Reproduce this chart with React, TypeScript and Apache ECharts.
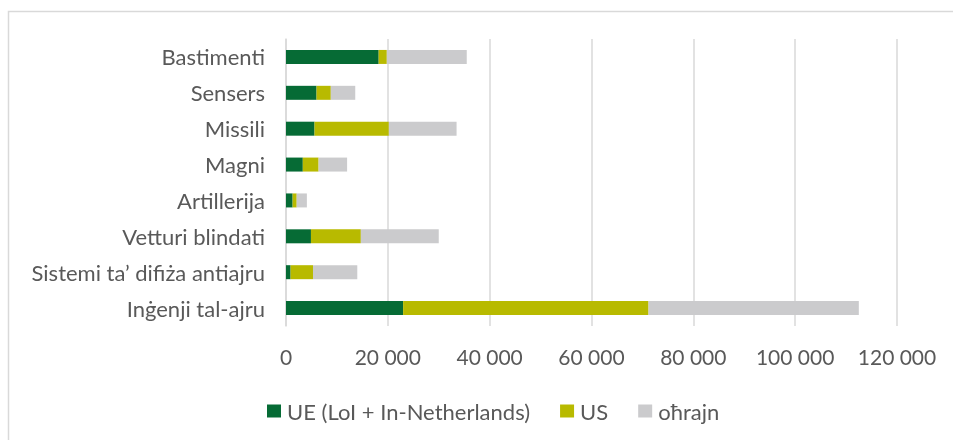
import React, { useEffect, useRef } from "react";
import * as echarts from "echarts";

const categories = [
  "Bastimenti",
  "Sensers",
  "Missili",
  "Magni",
  "Artillerija",
  "Vetturi blindati",
  "Sistemi ta’ difiża antiajru",
  "Inġenji tal-ajru",
];
const seriesNames = ["UE (LoI + In-Netherlands)", "US", "oħrajn"];
const ueValues = [18200, 6000, 5600, 3300, 1300, 4900, 900, 23000];
const usValues = [1600, 2800, 14600, 3100, 800, 9800, 4400, 48200];
const otherValues = [15700, 4800, 13300, 5600, 2000, 15300, 8700, 41300];
const colors = ["#066b35", "#b8ba00", "#cbcbcd"];

const fmt = (v: number) =>
  String(v).replace(/\B(?=(\d{3})+(?!\d))/g, " ");

export default function App() {
  const ref = useRef<HTMLDivElement>(null);
  useEffect(() => {
    if (!ref.current) return;
    const chart = echarts.init(ref.current, null, { renderer: "svg" });
    const font = "Lato, 'Open Sans', sans-serif";
    const data = [ueValues, usValues, otherValues];
    chart.setOption({
      animation: false,
      textStyle: { fontFamily: font },
      graphic: [
        {
          type: "rect",
          shape: { x: 8.5, y: 11.5, width: 1000, height: 500 },
          style: { fill: "none", stroke: "#d9d9d9", lineWidth: 1.5 },
          silent: true,
        },
      ],
      grid: { left: 286, right: 56, top: 39, bottom: 114, containLabel: false },
      legend: {
        top: 395,
        left: 262,
        itemWidth: 14,
        itemHeight: 13,
        itemGap: 30,
        icon: "rect",
        textStyle: { color: "#595959", fontSize: 22, fontFamily: font, padding: [0, 0, 0, 1] },
        data: seriesNames,
      },
      xAxis: {
        type: "value",
        min: 0,
        max: 120000,
        interval: 20000,
        axisLine: { show: false },
        axisTick: { show: false },
        splitLine: { lineStyle: { color: "#d9d9d9", width: 1.5 } },
        axisLabel: {
          color: "#595959",
          fontSize: 21,
          margin: 20,
          formatter: (v: number) => fmt(v),
        },
      },
      yAxis: {
        type: "category",
        inverse: true,
        data: categories,
        axisLine: { show: true, lineStyle: { color: "#d9d9d9", width: 1.5 } },
        axisTick: { show: false },
        axisLabel: { color: "#595959", fontSize: 22, margin: 21 },
      },
      series: seriesNames.map((name, i) => ({
        name,
        type: "bar",
        stack: "total",
        barWidth: "39%",
        itemStyle: { color: colors[i] },
        data: data[i],
      })),
    });
    return () => chart.dispose();
  }, []);
  return (
    <div
      ref={ref}
      style={{ position: "fixed", left: 0, top: 0, width: 953, height: 440 }}
    />
  );
}
